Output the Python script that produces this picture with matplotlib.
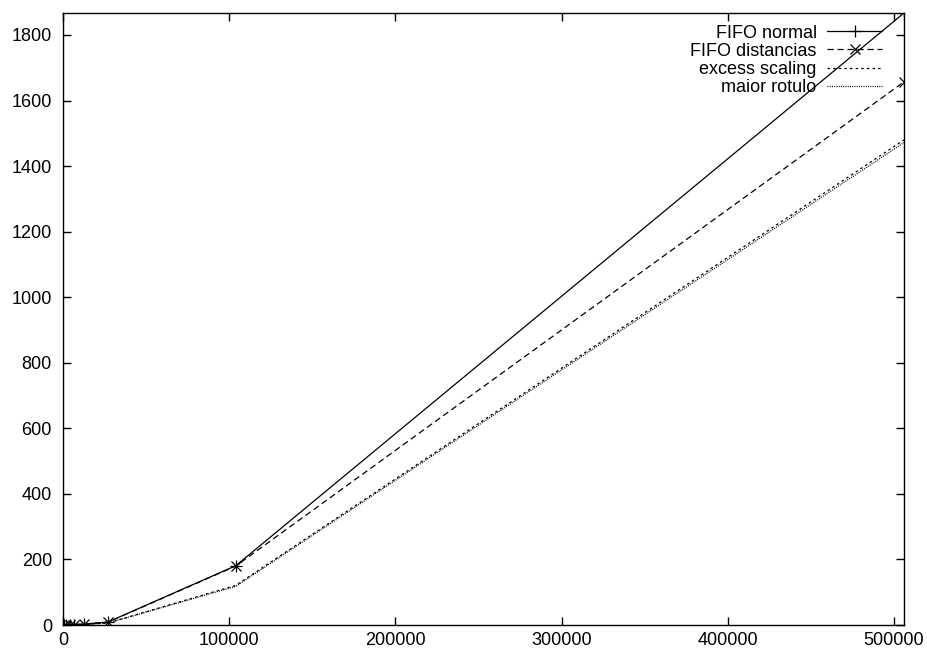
import matplotlib
matplotlib.use('Agg')
import matplotlib.pyplot as plt

plt.rcParams['font.family'] = ['Liberation Sans', 'DejaVu Sans']

# tamanho do grafo (eixo x) e tempo (eixo y)
sizes = [500, 2000, 4500, 6500, 12500, 27000, 104000, 506000]
fifo_normal = [0.1, 0.3, 0.8, 1.3, 2.8, 9, 181, 1867]
fifo_dist = [0.1, 0.3, 0.8, 1.2, 2.6, 8.5, 180, 1657]
excess = [0.1, 0.2, 0.5, 0.9, 1.9, 6, 121, 1480]
maior = [0.1, 0.2, 0.5, 0.9, 1.8, 5.8, 118, 1472]

xticks = [0, 100000, 200000, 300000, 400000, 500000]
yticks = list(range(0, 1801, 200))

fig = plt.figure(figsize=(9.28, 6.51), dpi=100)
ax = fig.add_axes([63/928, 1 - 625/651, (904 - 63)/928, (625 - 13)/651])

lw = 0.9
ax.plot(sizes, fifo_normal, color='black', lw=lw, marker='+', ms=8, mew=0.9,
        label='FIFO normal')
ax.plot(sizes, fifo_dist, color='black', lw=lw, ls=(0, (5, 3)), marker='x', ms=7, mew=0.9,
        label='FIFO distancias')
ax.plot(sizes, excess, color='black', lw=lw, ls=(0, (2, 2.5)), label='excess scaling')
ax.plot(sizes, maior, color='black', lw=lw, ls=(0, (0.8, 1.0)), label='maior rotulo')

ax.set_xlim(0, 506000)
ax.set_ylim(0, 1867)
ax.set_xticks(xticks)
ax.set_yticks(yticks)
ax.set_xticklabels([str(v) for v in xticks])
ax.set_yticklabels([str(v) for v in yticks])
ax.tick_params(direction='in', length=6, width=1, top=True, right=True,
               labelsize=13)
ax.tick_params(axis='y', pad=8)
ax.tick_params(axis='x', pad=5)
for sp in ax.spines.values():
    sp.set_linewidth(1)

ax.legend(loc='upper right', bbox_to_anchor=(0.982, 0.993), frameon=False,
          markerfirst=False, fontsize=13, handlelength=3, handletextpad=0.6,
          labelspacing=0.07, borderaxespad=0, numpoints=1)

fig.savefig('out.png', dpi=100)
